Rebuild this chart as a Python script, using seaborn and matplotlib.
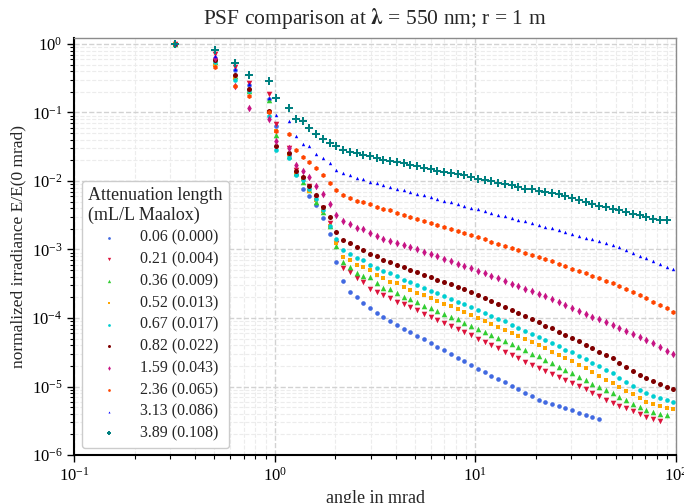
import numpy as np
import pandas as pd
import matplotlib
matplotlib.use("Agg")
import matplotlib.pyplot as plt
import seaborn as sns
from matplotlib.ticker import LogLocator, NullFormatter

# ---------------- data ----------------
angle_mrad = [0.316, 0.503, 0.634, 0.741, 0.934, 1.009, 1.178, 1.273,
              1.375, 1.486, 1.606, 1.735, 1.874, 2.025, 2.188, 2.364, 2.554, 2.760,
              2.982, 3.221, 3.480, 3.760, 4.063, 4.389, 4.742, 5.124, 5.536, 5.981,
              6.462, 6.982, 7.543, 8.150, 8.806, 9.515, 10.28, 11.11, 12.00, 12.97,
              14.01, 15.14, 16.35, 17.67, 19.09, 20.63, 22.28, 24.08, 26.01, 28.11,
              30.37, 32.81, 35.45, 38.30, 41.38, 44.71, 48.31, 52.19, 56.39, 60.92,
              65.82, 71.12, 76.84, 83.02, 89.70, 96.91]

labels = ["0.06 (0.000)", "0.21 (0.004)", "0.36 (0.009)", "0.52 (0.013)",
          "0.67 (0.017)", "0.82 (0.022)", "1.59 (0.043)", "2.36 (0.065)",
          "3.13 (0.086)", "3.89 (0.108)"]

# log10 of normalized irradiance, one list per series
log_irr_006 = [0, -0.21, -0.38, -0.60, -0.80, -1.20, -1.62, -1.90,
               -2.11, -2.22, -2.35, -2.545, -2.77, -3.19, -3.46, -3.615, -3.70, -3.78,
               -3.86, -3.92, -3.99, -4.04, -4.10, -4.156,
               -4.21, -4.26, -4.31, -4.37, -4.42, -4.47, -4.53, -4.58, -4.63, -4.686,
               -4.74, -4.79, -4.84, -4.89, -4.94, -4.99, -5.04, -5.09, -5.14, -5.19, -5.23,
               -5.26, -5.29, -5.31, -5.35, -5.39, -5.42, -5.44, -5.47]
log_irr_021 = [0, -0.146, -0.33, -0.57, -0.73, -1.17, -1.52, -1.84,
               -1.97, -2.08, -2.25, -2.40, -2.62, -2.90, -3.27, -3.33, -3.42, -3.47,
               -3.57, -3.62, -3.67, -3.71, -3.76, -3.80,
               -3.845, -3.89, -3.935, -3.98, -4.025, -4.07, -4.115, -4.16, -4.205, -4.25,
               -4.30, -4.35, -4.39, -4.44, -4.49, -4.54, -4.59, -4.64, -4.69, -4.73, -4.78,
               -4.82, -4.86, -4.91, -4.95, -4.99, -5.04, -5.09, -5.14, -5.19, -5.24,
               -5.28, -5.32, -5.36, -5.40, -5.44, -5.48, -5.50]
log_irr_036 = [0, -0.27, -0.47, -0.69, -0.82, -1.33, -1.64, -1.88,
               -2.01, -2.13, -2.30, -2.45, -2.66, -2.95, -3.18, -3.25, -3.35, -3.38,
               -3.40, -3.49, -3.56, -3.58, -3.63, -3.69,
               -3.73, -3.77, -3.82, -3.86, -3.90, -3.94, -3.98, -4.02, -4.07, -4.11,
               -4.16, -4.20, -4.25, -4.29, -4.34, -4.38, -4.43, -4.47, -4.52, -4.56, -4.61,
               -4.66, -4.71, -4.76, -4.81, -4.86, -4.91, -4.96, -5.01, -5.05, -5.10,
               -5.15, -5.20, -5.25, -5.30, -5.34, -5.37, -5.40, -5.42]
log_irr_052 = [0, -0.30, -0.50, -0.68, -0.99, -1.27, -1.60, -1.88,
               -1.97, -2.15, -2.28, -2.44, -2.66, -2.91, -3.105, -3.15, -3.23, -3.25,
               -3.30, -3.37, -3.42, -3.47, -3.49, -3.55,
               -3.59, -3.63, -3.67, -3.71, -3.75, -3.79, -3.83, -3.87, -3.915, -3.956,
               -4.00, -4.04, -4.09, -4.13, -4.18, -4.22, -4.26, -4.31, -4.35, -4.40, -4.44,
               -4.49, -4.54, -4.58, -4.63, -4.68, -4.73, -4.79, -4.84, -4.90, -4.95,
               -5.00, -5.06, -5.11, -5.17, -5.22, -5.25, -5.28, -5.31, -5.33]
log_irr_067 = [0, -0.27, -0.52, -0.69, -1.05, -1.55, -1.66, -1.91,
               -1.99, -2.12, -2.27, -2.42, -2.66, -2.84, -3.01, -3.07, -3.13, -3.15,
               -3.23, -3.27, -3.32, -3.34, -3.39, -3.44,
               -3.48, -3.52, -3.56, -3.60, -3.64, -3.68, -3.72, -3.76, -3.80, -3.835,
               -3.88, -3.92, -3.97, -4.01, -4.05, -4.10, -4.14, -4.19, -4.23, -4.28, -4.32,
               -4.36, -4.41, -4.46, -4.50, -4.55, -4.60, -4.65, -4.70, -4.76, -4.81,
               -4.87, -4.93, -4.99, -5.05, -5.10, -5.14, -5.17, -5.20, -5.23]
log_irr_082 = [0, -0.24, -0.45, -0.66, -0.98, -1.49, -1.59, -1.86,
               -1.94, -2.07, -2.20, -2.375, -2.53, -2.74, -2.86, -2.91, -2.96, -3.01,
               -3.06, -3.10, -3.15, -3.18, -3.23, -3.26,
               -3.30, -3.33, -3.37, -3.40, -3.44, -3.48, -3.51, -3.55, -3.58, -3.62,
               -3.66, -3.71, -3.75, -3.79, -3.84, -3.88, -3.93, -3.97, -4.01, -4.06, -4.11,
               -4.15, -4.20, -4.25, -4.29, -4.34, -4.39, -4.44, -4.49, -4.54, -4.59,
               -4.65, -4.71, -4.77, -4.83, -4.88, -4.92, -4.96, -5.00, -5.04]
log_irr_159 = [0, -0.21, -0.62, -0.94, -1.10, -1.42, -1.52, -1.77,
               -1.86, -1.94, -2.07, -2.19, -2.33, -2.50, -2.58, -2.63, -2.68, -2.705,
               -2.755, -2.80, -2.84, -2.87, -2.90, -2.93,
               -2.965, -3.00, -3.03, -3.07, -3.10, -3.135, -3.17, -3.205, -3.24, -3.275,
               -3.31, -3.35, -3.385, -3.42, -3.46, -3.50, -3.535, -3.57, -3.61, -3.645, -3.68,
               -3.72, -3.76, -3.81, -3.85, -3.90, -3.94, -3.98, -4.02, -4.06, -4.10,
               -4.14, -4.19, -4.23, -4.28, -4.32, -4.37, -4.42, -4.48, -4.53]
log_irr_236 = [0, -0.34, -0.61, -0.76, -0.99, -1.27, -1.32, -1.55,
               -1.65, -1.72, -1.815, -1.91, -2.03, -2.13, -2.20, -2.25, -2.29, -2.30,
               -2.34, -2.375, -2.41, -2.43, -2.47, -2.50,
               -2.53, -2.56, -2.59, -2.62, -2.645, -2.675, -2.70, -2.73, -2.76, -2.79,
               -2.82, -2.85, -2.885, -2.92, -2.95, -2.98, -3.01, -3.045, -3.08, -3.11, -3.14,
               -3.17, -3.21, -3.245, -3.28, -3.31, -3.345, -3.38, -3.42, -3.455, -3.49,
               -3.53, -3.575, -3.62, -3.665, -3.71, -3.76, -3.81, -3.86, -3.91]
log_irr_313 = [0, -0.18, -0.36, -0.58, -0.79, -1.04, -1.12, -1.34,
               -1.465, -1.49, -1.60, -1.66, -1.74, -1.84, -1.89, -1.92, -1.95, -1.97,
               -2.01, -2.03, -2.06, -2.09, -2.11, -2.135,
               -2.16, -2.19, -2.21, -2.24, -2.26, -2.29, -2.31, -2.34, -2.365, -2.39,
               -2.415, -2.44, -2.465, -2.49, -2.515, -2.54, -2.565, -2.59, -2.615, -2.64, -2.667,
               -2.69, -2.72, -2.745, -2.77, -2.80, -2.83, -2.85, -2.88, -2.91, -2.94,
               -2.97, -3.01, -3.05, -3.09, -3.13, -3.17, -3.21, -3.25, -3.29]
log_irr_389 = [0, -0.088, -0.277, -0.457, -0.54, -0.79, -0.93, -1.10,
               -1.124, -1.23, -1.32, -1.387, -1.45, -1.485, -1.547, -1.57, -1.587, -1.616,
               -1.635, -1.67, -1.693, -1.708, -1.727, -1.742,
               -1.76, -1.78, -1.805, -1.83, -1.85, -1.87, -1.88, -1.90, -1.92, -1.94,
               -1.97, -1.98, -2.00, -2.025, -2.044, -2.063, -2.09, -2.11, -2.12, -2.14, -2.16,
               -2.17, -2.19, -2.22, -2.25, -2.28, -2.31, -2.34, -2.365, -2.385, -2.41,
               -2.43, -2.46, -2.48, -2.50, -2.53, -2.55, -2.57, -2.565]

series_values = [log_irr_006, log_irr_021, log_irr_036, log_irr_052, log_irr_067,
                 log_irr_082, log_irr_159, log_irr_236, log_irr_313, log_irr_389]
colors = ["#4169e1", "#dc143c", "#32cd32", "#ffa500", "#00ced1",
          "#800000", "#c71585", "#ff4500", "#0000ff", "#008080"]
markers = ["o", "v", "^", "s", "o", "o", "d", "h", "^", "P"]
sizes = [11, 16, 16, 11, 11, 13, 15, 13, 6, 26]

# ---------------- style ----------------
sns.set_theme(style="whitegrid")
plt.rcParams["font.family"] = ["Liberation Serif", "DejaVu Serif"]
plt.rcParams["mathtext.fontset"] = "stix"

fig, ax = plt.subplots(figsize=(6.84, 5.03), dpi=100)
fig.subplots_adjust(left=0.1086, right=0.9883, top=0.9239, bottom=0.0954)

for lab, vals, col, mk, s in zip(labels, series_values, colors, markers, sizes):
    sub = pd.DataFrame({"angle": angle_mrad[:len(vals)],
                        "irr": np.power(10.0, np.array(vals))})
    sns.scatterplot(data=sub, x="angle", y="irr", color=col, marker=mk, s=s,
                    linewidth=0, ax=ax, label=lab)

ax.set_xscale("log")
ax.set_yscale("log")
ax.set_xlim(0.1, 100)
ax.set_ylim(1e-6, 1.21)

for axis in (ax.xaxis, ax.yaxis):
    axis.set_major_locator(LogLocator(base=10, numticks=20))
    axis.set_minor_locator(LogLocator(base=10, subs=np.arange(2, 10), numticks=100))
    axis.set_minor_formatter(NullFormatter())

ax.grid(which="major", ls="--", color="#d2d2d2", lw=1.0)
ax.grid(which="minor", ls="--", color="#ececec", lw=0.8)

ax.tick_params(which="both", direction="out", colors="black", bottom=True, left=True,
               labelsize=12)
ax.tick_params(which="major", length=5, width=1)
ax.tick_params(which="minor", length=3, width=0.8)

for side in ("left", "bottom"):
    ax.spines[side].set_color("black")
    ax.spines[side].set_linewidth(1.5)
for side in ("top", "right"):
    ax.spines[side].set_color("#8c8c8c")
    ax.spines[side].set_linewidth(1.0)

ax.set_title(r"PSF comparison at $\mathbf{\lambda}$ = 550 nm; r = 1 m", fontsize=15.5, pad=10)
ax.set_xlabel("angle in mrad", fontsize=13)
ax.set_ylabel("normalized irradiance E/E(0 mrad)", fontsize=12.5)

leg = ax.legend(title="Attenuation length\n(mL/L Maalox)", loc="lower left",
                bbox_to_anchor=(0.013, 0.017), borderaxespad=0, fontsize=11.5,
                title_fontsize=13, markerscale=0.6, handlelength=2.6,
                handletextpad=0.6, labelspacing=0.36, alignment="left",
                frameon=True, fancybox=True, edgecolor="#cccccc", framealpha=1)

fig.savefig("out.png", dpi=100)
